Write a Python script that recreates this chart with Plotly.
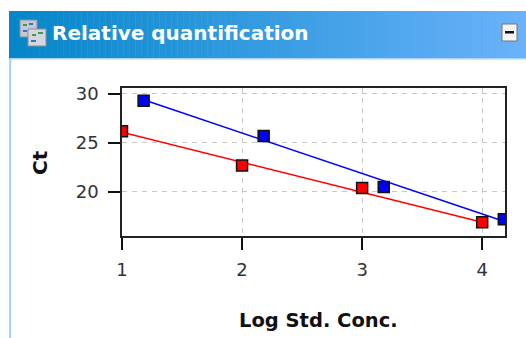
import plotly.graph_objects as go

W, H = 526, 338

# Data
blue_x = [1.18, 2.18, 3.18, 4.18]
blue_y = [29.3, 25.7, 20.5, 17.2]
blue_fit_x = [1.18, 4.18]
blue_fit_y = [29.4, 17.0]
red_x = [1, 2, 3, 4]
red_y = [26.2, 22.7, 20.4, 16.9]
red_fit_x = [1, 4]
red_fit_y = [26.1, 16.9]
x_ticks = [1, 2, 3, 4]
y_ticks = [20, 25, 30]
title_text = "Relative quantification"
x_title = "Log Std. Conc."
y_title = "Ct"

fig = go.Figure()
for fx, fy, c in [(blue_fit_x, blue_fit_y, "#0000ff"), (red_fit_x, red_fit_y, "#ff0000")]:
    fig.add_trace(go.Scatter(x=fx, y=fy, mode="lines", line=dict(color=c, width=1.5), showlegend=False))
for px_, py_, c in [(blue_x, blue_y, "#0000ff"), (red_x, red_y, "#ff0000")]:
    fig.add_trace(go.Scatter(x=px_, y=py_, mode="markers", showlegend=False,
                             marker=dict(symbol="square", size=11, color=c, line=dict(color="#111111", width=1.5))))


def px(x0, y0, x1, y1, color, line=None):
    return dict(type="rect", xref="paper", yref="paper", layer="above",
                x0=(x0 - ML) / PW, x1=(x1 - ML) / PW,
                y0=1 - (y0 - MT) / PH, y1=1 - (y1 - MT) / PH,
                fillcolor=color, line=dict(width=1 if line else 0, color=line or color))


ML, MR, MT, MB = 122, 21, 88, 102
PW, PH = W - ML - MR, H - MT - MB
shapes = []
# header gradient
start, end = (4, 134, 200), (106, 178, 250)
n = 86
for i in range(n):
    t = i / (n - 1)
    col = "rgb(%d,%d,%d)" % tuple(round(a + (b - a) * t) for a, b in zip(start, end))
    shapes.append(px(9 + i * 517 / n, 11, 9 + (i + 1) * 517 / n + 0.5, 58, col))
shapes.append(px(9, 58, 526, 59.5, "#a8d4fb"))
shapes.append(px(9, 58, 11, 338, "#a8d4fb"))
# icon
shapes.append(px(20, 20, 37, 37, "#c4c8d6", "#8d8f98"))
shapes.append(px(28, 29, 46, 46, "#d4d6e0", "#8d8f98"))
shapes.append(px(23, 24, 27, 26, "#3f9a4a"))
shapes.append(px(29, 23, 33, 25, "#3f6fc0"))
shapes.append(px(23, 30, 27, 32, "#3f6fc0"))
shapes.append(px(32, 34, 36, 36, "#3f9a4a"))
shapes.append(px(38, 32, 43, 34, "#3f9a4a"))
shapes.append(px(31, 40, 36, 42, "#3f6fc0"))
# collapse button
shapes.append(px(502, 24, 517, 41, "#f4f4f4", "#777777"))
shapes.append(px(505, 31, 514, 33.5, "#111111"))

fig.update_layout(
    width=W, height=H, autosize=False,
    margin=dict(l=ML, r=MR, t=MT, b=MB),
    paper_bgcolor="white", plot_bgcolor="white",
    shapes=shapes,
    font=dict(family="DejaVu Sans", color="#333333"),
    annotations=[
        dict(text="<b>%s</b>" % title_text, xref="paper", yref="paper",
             x=(50 - ML) / PW, y=1 - (33 - MT) / PH, xanchor="left", yanchor="middle",
             showarrow=False, font=dict(size=20, color="white", family="DejaVu Sans")),
        dict(text="<b>%s</b>" % x_title, xref="paper", yref="paper",
             x=(318 - ML) / PW, y=1 - (320 - MT) / PH, xanchor="center", yanchor="middle",
             showarrow=False, font=dict(size=19.5, color="#111111")),
        dict(text="<b>%s</b>" % y_title, xref="paper", yref="paper", textangle=-90,
             x=(40 - ML) / PW, y=1 - (163 - MT) / PH, xanchor="center", yanchor="middle",
             showarrow=False, font=dict(size=20, color="#111111")),
    ],
)
axis_style = dict(ticks="outside", ticklen=12, tickwidth=1.5, tickcolor="#111111",
                  showline=True, linecolor="#222222", linewidth=1.5, mirror=True,
                  showgrid=True, gridcolor="#c8c8c8", griddash="5px,5px", gridwidth=1.2,
                  zeroline=False, tickfont=dict(size=18, color="#333333"))
fig.update_xaxes(range=[1, 4.19], tickvals=x_ticks, ticklabelstandoff=5, **axis_style)
fig.update_yaxes(range=[15.5, 30.6], tickvals=y_ticks, ticklabelstandoff=6, **axis_style)

fig.write_html("out.html", config={"displayModeBar": False},
               post_script="document.body.style.margin='0';")
